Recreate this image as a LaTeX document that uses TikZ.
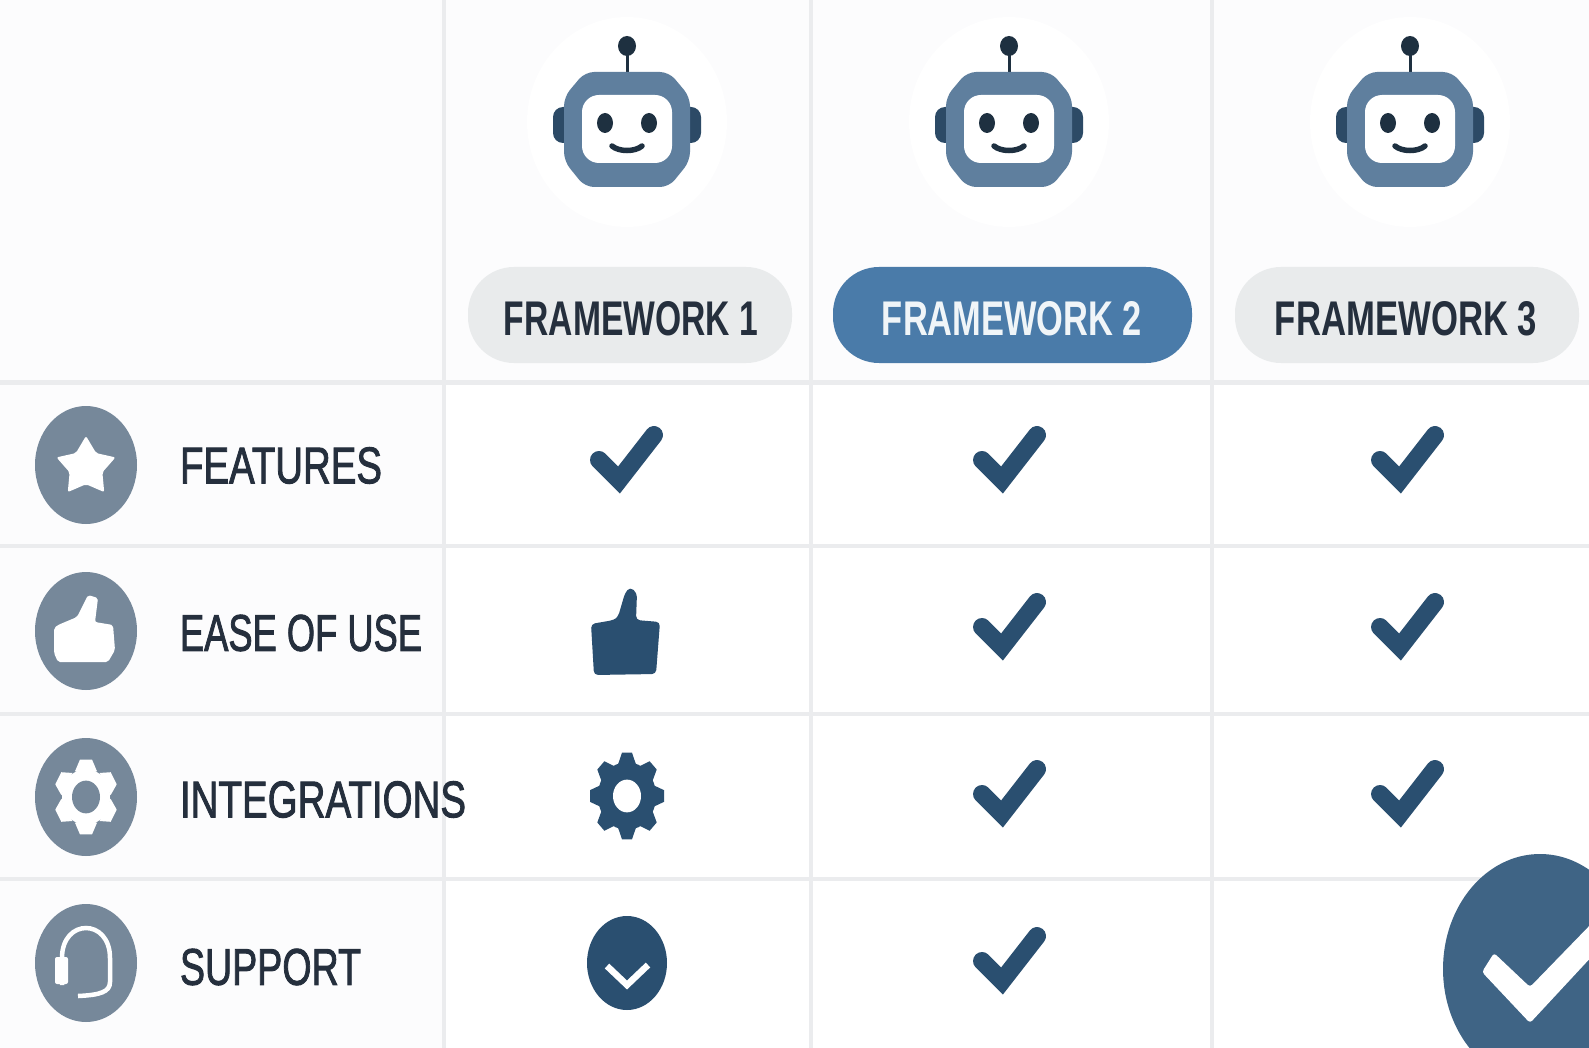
\documentclass[tikz,border=0pt]{standalone}
\usepackage{fontspec}
\usepackage{graphicx}
\setmainfont{Liberation Sans}
\newfontfamily\rowf[FakeBold=2]{Liberation Sans}
\usetikzlibrary{shapes.geometric}
\definecolor{gridc}{HTML}{EBECEE}
\definecolor{paper}{HTML}{FCFCFD}
\definecolor{inkc}{HTML}{252F3D}
\definecolor{navy}{HTML}{2A4F70}
\definecolor{head}{HTML}{5F7F9E}
\definecolor{ear}{HTML}{2C4A66}
\definecolor{dot}{HTML}{1E3040}
\definecolor{greyi}{HTML}{76889A}
\definecolor{pillg}{HTML}{E9EBEC}
\definecolor{pillb}{HTML}{4A7BA9}
\definecolor{bigc}{HTML}{3F6485}
\tikzset{
  gridline/.style={gridc,line width=3.5pt},
  lbl/.style={inner sep=0pt,outer sep=0pt,text=inkc},
  pillbox/.style={rounded corners=46pt,draw=none},
  chk/.pic={\draw[navy,line width=18pt,line join=miter,line cap=round] (-28,-2) -- (-8,18) -- (27,-27);},
  robot/.pic={
    \fill[white] (0,-3) ellipse (100 and 105);
    \fill[ear,rounded corners=10pt] (-74,-18) rectangle (-50,18);
    \fill[ear,rounded corners=10pt] (50,-18) rectangle (74,18);
    \draw[dot,line width=3pt] (0,-74) -- (0,-50);
    \fill[dot] (0,-79) ellipse (9 and 10);
    \fill[head,rounded corners=9pt] (-42,-53) -- (42,-53) -- (63,-28) -- (63,36) -- (42,62) -- (-42,62) -- (-63,36) -- (-63,-28) -- cycle;
    \fill[white,rounded corners=17pt] (-45,-30) rectangle (45,38);
    \fill[dot] (-22,-2) ellipse (8 and 10);
    \fill[dot] (22,-2) ellipse (8 and 10);
    \draw[dot,line width=5.5pt,line cap=round] (-15,21) .. controls (-8,27) and (8,27) .. (15,21);
  }
}
\begin{document}
\begin{tikzpicture}[x=1pt,y=-1pt]
\useasboundingbox (0,0) rectangle (1589,1048);
\clip (0,0) rectangle (1589,1048);
\fill[white] (0,0) rectangle (1589,1048);
\fill[paper] (0,0) rectangle (444,1048);
\fill[paper] (444,0) rectangle (1589,382);
% grid
\coordinate (v1t) at (444,0);  \coordinate (v1b) at (444,1048);
\coordinate (v2t) at (811,0);  \coordinate (v2b) at (811,1048);
\coordinate (v3t) at (1212,0); \coordinate (v3b) at (1212,1048);
\coordinate (h1l) at (0,382);  \coordinate (h1r) at (1589,382);
\coordinate (h2l) at (0,546);  \coordinate (h2r) at (1589,546);
\coordinate (h3l) at (0,714);  \coordinate (h3r) at (1589,714);
\coordinate (h4l) at (0,879);  \coordinate (h4r) at (1589,879);
\foreach \a/\b in {v1t/v1b,v2t/v2b,v3t/v3b,h2l/h2r,h3l/h3r,h4l/h4r}
  \draw[gridline] (\a) -- (\b);
\draw[gridline,line width=5pt] (h1l) -- (h1r);
% robots
\pic at (627,125) {robot};
\pic at (1009,125) {robot};
\pic at (1410,125) {robot};
% pills
\fill[pillg,pillbox] (468,267) rectangle (792,363);
\fill[pillb,pillbox] (833,267) rectangle (1192,363);
\fill[pillg,pillbox] (1235,267) rectangle (1579,363);
\node[lbl] (f1) at (631,319) {\resizebox{254pt}{34pt}{\bfseries FRAMEWORK 1}};
\node[lbl,text=white!92!pillb] (f2) at (1012,319) {\resizebox{260pt}{34pt}{\bfseries FRAMEWORK 2}};
\node[lbl] (f3) at (1406,319) {\resizebox{262pt}{34pt}{\bfseries FRAMEWORK 3}};
% row icons
\foreach \n/\y in {a/465,b/631,c/797,d/963}
  \fill[greyi] (86,\y) ellipse (51 and 59);
\node[star,star points=5,star point ratio=1.8,fill=white,inner sep=0pt,minimum size=62pt,rounded corners=2pt] (staricon) at (86,467) {};
\fill[white,rounded corners=2pt] (54,628) -- (58,625) -- (77,617) -- (88,595) -- (98,598) -- (95,622) -- (113,625) -- (115,650) -- (108,662) -- (58,662) -- (54,653) -- cycle;
\begin{scope}[shift={(86,797)},yscale=1.17]
  \fill[white] (0,0) circle (24);
  \foreach \a in {0,60,...,300} \fill[white,rotate=\a] (-11,-22) -- (-6,-32) -- (6,-32) -- (11,-22) -- cycle;
  \fill[greyi] (0,0) circle (14);
\end{scope}
\draw[white,line width=4.5pt] (62,985) -- (62,958) .. controls (62,918) and (110,918) .. (110,958) -- (110,982) .. controls (110,992) and (100,995) .. (78,996);
\fill[white,rounded corners=2pt] (55,957) rectangle (68,984);
% row labels
\node[lbl] (r1) at (281,465.5) {\resizebox{202pt}{36pt}{\rowf FEATURES}};
\node[lbl] (r2) at (301,633) {\resizebox{242pt}{36pt}{\rowf EASE OF USE}};
\node[lbl] (r3) at (323,799.5) {\resizebox{286pt}{36pt}{\rowf INTEGRATIONS}};
\node[lbl] (r4) at (270.5,967) {\resizebox{181pt}{36pt}{\rowf SUPPORT}};
% checks
\foreach \x/\y in {627/462,1010/462,1408/462,1010/629,1408/629,1010/796,1408/796,1010/963}
  \pic at (\x,\y) {chk};
% thumb
\fill[navy,rounded corners=4pt] (591,624) -- (614,620) -- (618,617) -- (625,593) -- (630,587) -- (637,593) -- (636,620) -- (660,622) -- (656,674) -- (594,675) -- cycle;
% gear
\begin{scope}[shift={(627,796)},yscale=1.17]
  \fill[navy] (0,0) circle (29);
  \foreach \a in {0,45,...,315} \fill[navy,rotate=\a] (-9,-27) -- (-5,-37) -- (5,-37) -- (9,-27) -- cycle;
  \fill[white] (0,0) circle (14);
\end{scope}
% round chevron
\fill[navy] (627,963) ellipse (40 and 47);
\draw[white,line width=6.5pt] (607,966) -- (627,985) -- (648,965);
% big check
\fill[bigc] (1540,969) ellipse (97 and 115);
\fill[white,rounded corners=3pt] (1482,972) -- (1494,953) -- (1530,987) -- (1595,920) -- (1595,953) -- (1530,1023) -- cycle;
\end{tikzpicture}
\end{document}
